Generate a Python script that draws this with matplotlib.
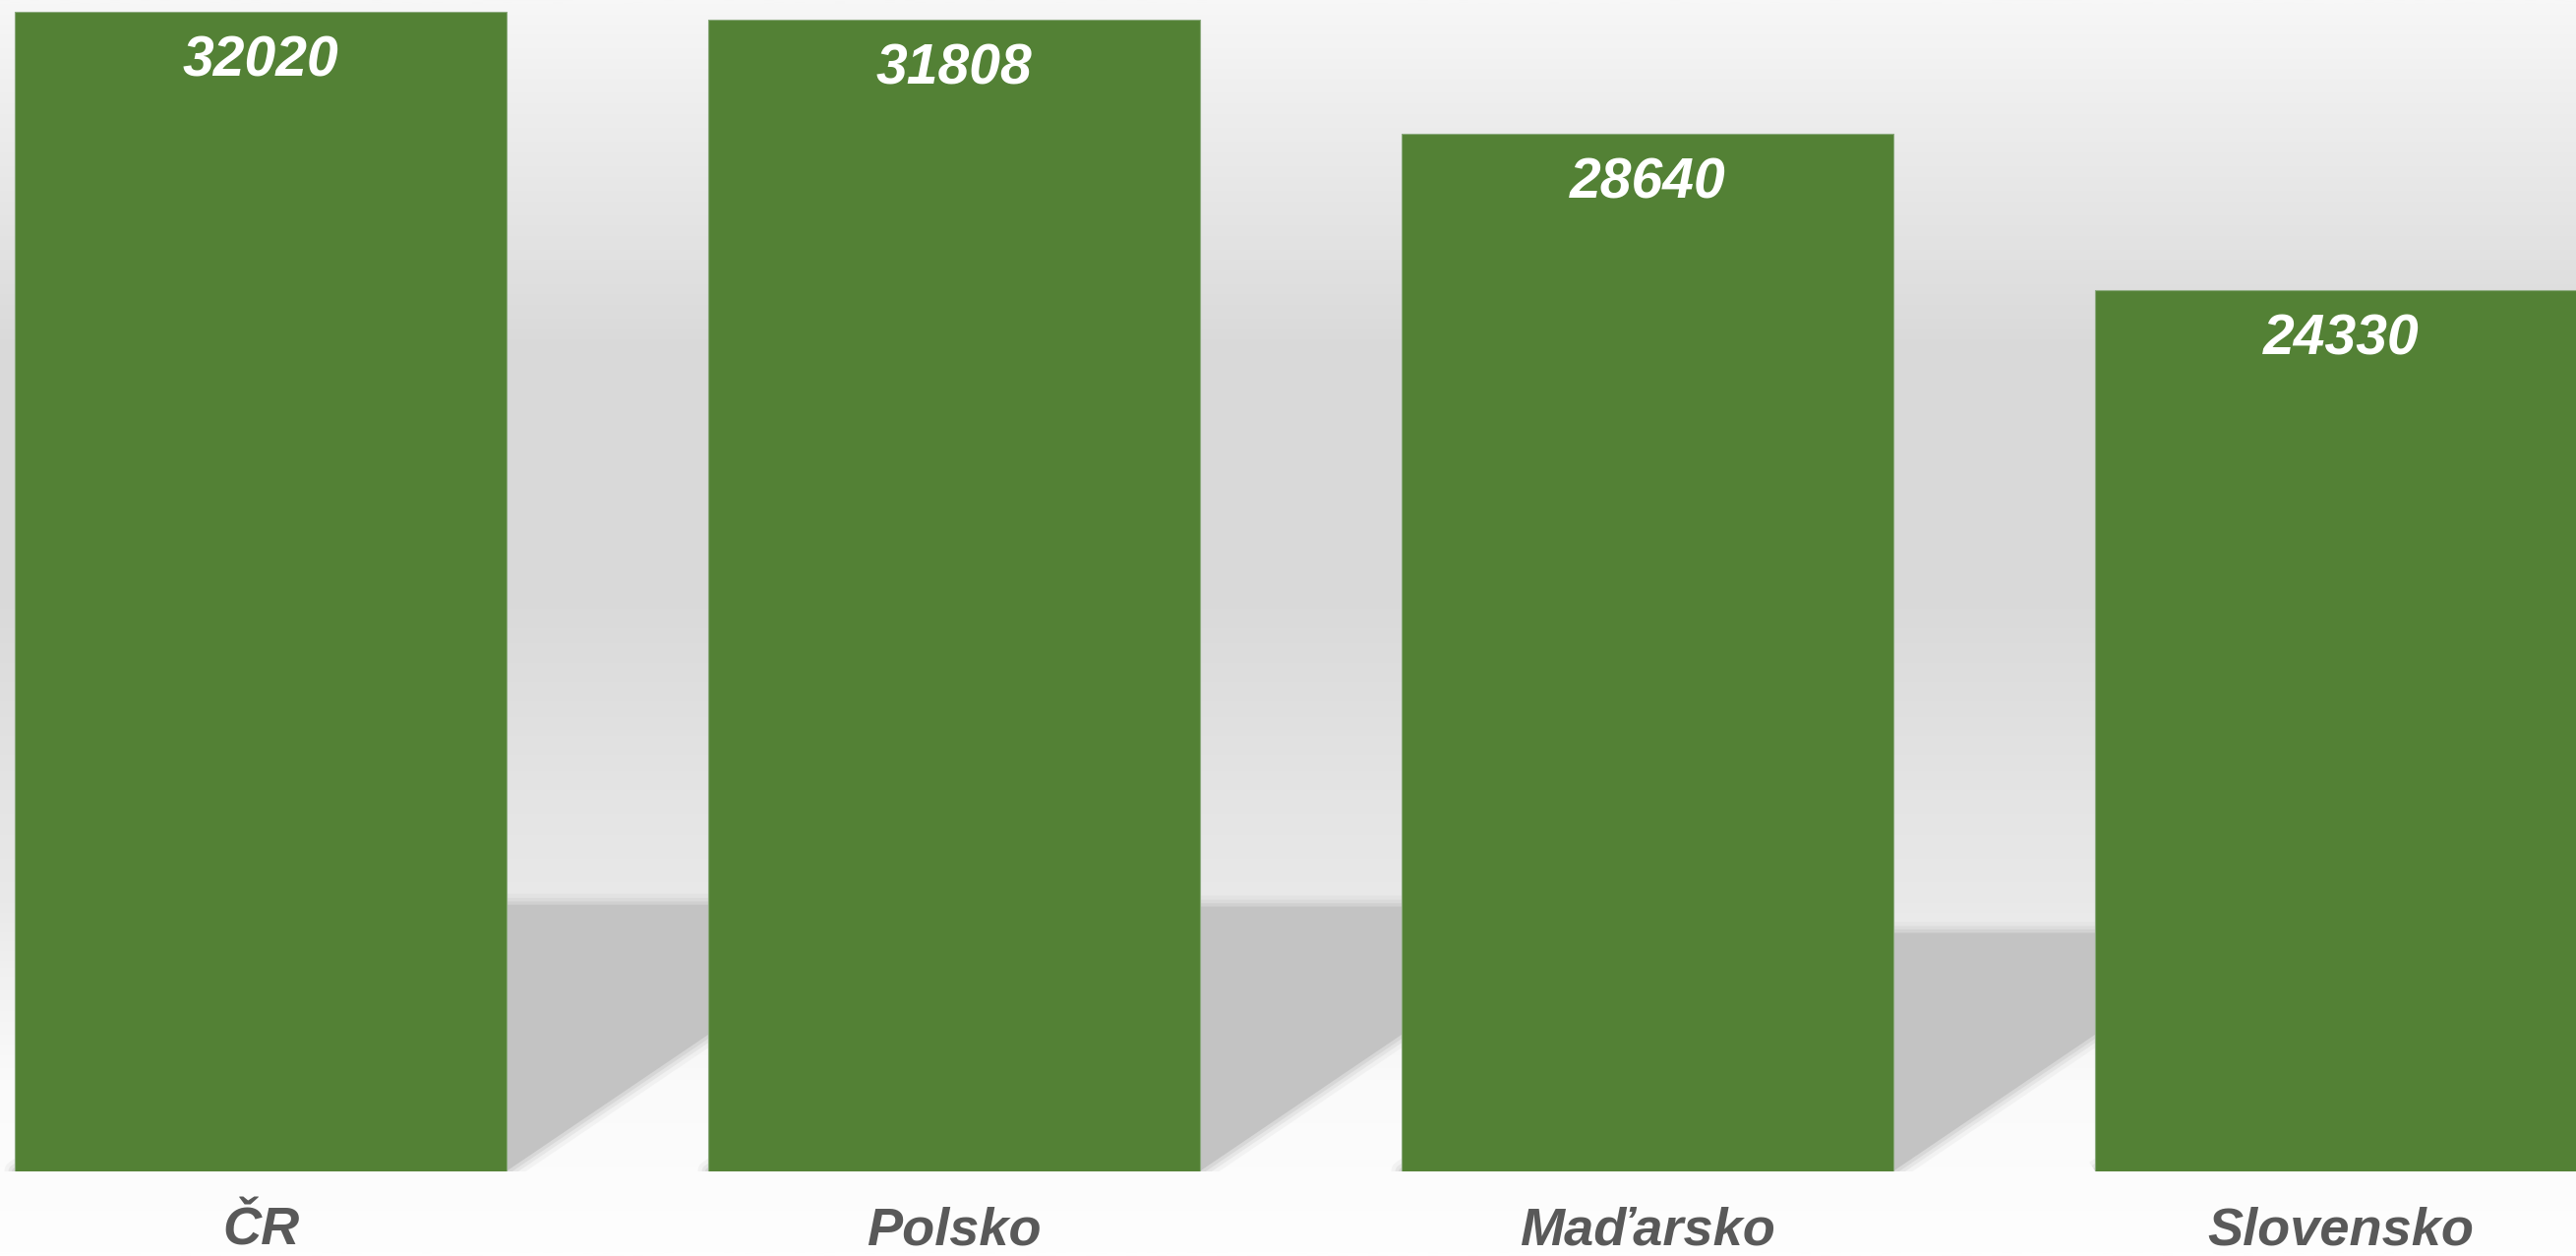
import matplotlib
matplotlib.use("Agg")
import matplotlib.pyplot as plt
import numpy as np
from matplotlib.colors import LinearSegmentedColormap
from matplotlib.patches import Polygon

# data
countries = ["ČR", "Polsko", "Maďarsko", "Slovensko"]
wages = [32020, 31808, 28640, 24330]

W, H = 2619, 1277
fig = plt.figure(figsize=(W / 100, H / 100), dpi=100)

# background gradient (wall -> floor)
bg = fig.add_axes([0, 0, 1, 1], zorder=-2)
stops = [(0.0, "#f7f7f7"), (0.08, "#eeeeee"), (0.16, "#e6e6e6"), (0.27, "#dadada"),
         (0.47, "#d9d9d9"), (0.63, "#e4e4e4"), (0.72, "#e9e9e9"), (0.78, "#f1f1f1"),
         (0.86, "#fafafa"), (1.0, "#fefefe")]
cmap = LinearSegmentedColormap.from_list("wall", stops)
grad = np.linspace(0, 1, 512).reshape(-1, 1)
bg.imshow(grad, aspect="auto", cmap=cmap, extent=[0, 1, 1, 0])
bg.set_axis_off()

# main axes
bottom = 86 / H
ax = fig.add_axes([0, bottom, 1, 1 - bottom])
ax.patch.set_alpha(0)
x = np.arange(len(countries))
bar_w = 0.708
ax.set_xlim(-265 / 705, (W - 265) / 705)
ax.set_ylim(0, 32346)

# pixels per data unit (for the sheared floor shadow)
px_x = W / (ax.get_xlim()[1] - ax.get_xlim()[0])
px_y = (H - 86) / (ax.get_ylim()[1] - ax.get_ylim()[0])

shadow_col = "#c3c3c3"
for xi, v in zip(x, wages):
    hs = 0.23 * v
    dx = 1.477 * hs * px_y / px_x
    left, right = xi - bar_w / 2, xi + bar_w / 2
    pts = [(left, 0), (right, 0), (right + dx, hs), (left + dx, hs)]
    for lw, a in [(16, 0.15), (10, 0.25), (5, 0.4)]:
        ax.add_patch(Polygon(pts, closed=True, facecolor="none", edgecolor=shadow_col,
                             lw=lw, alpha=a, joinstyle="round", zorder=1))
    ax.add_patch(Polygon(pts, closed=True, facecolor=shadow_col, edgecolor="none", zorder=1))

bars = ax.bar(x, wages, width=bar_w, color="#538135", edgecolor="#8aa97c",
              linewidth=0.8, zorder=3)

for xi, v in zip(x, wages):
    ax.annotate(str(v), (xi, v), xytext=(0, -47), textcoords="offset points",
                ha="center", va="baseline", fontsize=41, fontweight="bold",
                fontstyle="italic", color="white", family="Liberation Sans", zorder=4)

ax.set_xticks(x)
ax.set_xticklabels(countries, fontsize=39, fontweight="bold", fontstyle="italic",
                   color="#595959", family="Liberation Sans", va="baseline")
ax.tick_params(axis="x", length=0, pad=54)
ax.set_yticks([])
for s in ax.spines.values():
    s.set_visible(False)

fig.savefig("out.png", dpi=100)
